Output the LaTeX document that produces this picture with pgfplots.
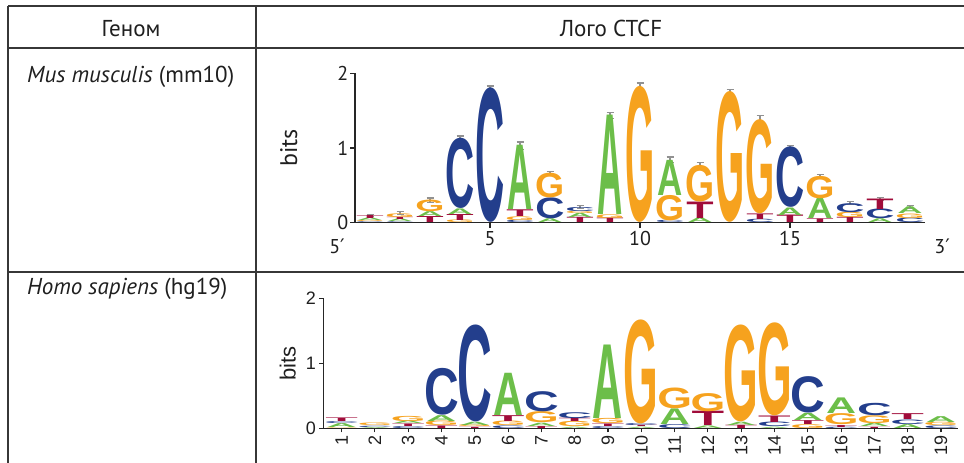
\documentclass[border=0pt]{standalone}
\usepackage{fontspec}
\usepackage{graphicx}
\usepackage{pgfplots}
\pgfplotsset{compat=1.18}
\setmainfont{PT Sans}
\newfontfamily\helv{Liberation Sans}
\newfontfamily\logofont{Liberation Sans}
\newfontfamily\dejavu{DejaVu Sans}
\definecolor{colA}{RGB}{108,190,73}
\definecolor{colC}{RGB}{35,62,140}
\definecolor{colG}{RGB}{246,162,30}
\definecolor{colT}{RGB}{160,12,58}
\definecolor{rulecol}{RGB}{55,55,55}
\definecolor{errcol}{RGB}{145,145,145}
\def\wfA{0.97}\def\wfC{1.12}\def\wfG{1.12}\def\wfT{1.05}
\newlength\logoHH
\newlength\logoWW

\pgfplotsset{
  logo/.style 2 args={
    only marks, mark=*, mark size=0pt, mark options={draw=none,fill=none},
    scatter, point meta=explicit symbolic,
    visualization depends on={\thisrow{h}\as\logoH},
    scatter/@pre marker code/.code={%
      \edef\logoL{\pgfplotspointmeta}%
      \edef\logowf{\csname wf\logoL\endcsname}%
      \logoHH=#1pt\relax
      \logoHH=\logoH\logoHH
      \logoWW=#2pt\relax
      \logoWW=\logowf\logoWW
      \edef\logocn{col\logoL}%
      \pgftext[bottom]{\color{\logocn}\resizebox*{\logoWW}{\logoHH}{\logofont\bfseries\logoL}}%
    },
    scatter/@post marker code/.code={},
  },
  errs/.style={
    only marks, mark=*, mark size=0pt, mark options={draw=none,fill=none},
    error bars/.cd, y dir=both, y explicit,
    error bar style={draw=errcol, line width=1.1pt},
    error mark options={rotate=90, mark size=3.5pt, line width=1.1pt, draw=errcol},
  },
}

\pgfplotstableread{
x y h L
1 0 0.01 C
1 0.01 0.015 G
1 0.025 0.035 A
1 0.06 0.04 T
2 0 0.01 C
2 0.01 0.035 A
2 0.045 0.03 T
2 0.075 0.05 G
3 0 0.08 T
3 0.08 0.065 A
3 0.145 0.155 G
4 0 0.035 G
4 0.035 0.08 T
4 0.115 0.075 A
4 0.19 0.94 C
5 0 1.80 C
6 0 0.03 C
6 0.03 0.05 G
6 0.08 0.09 T
6 0.17 0.86 A
7 0 0.05 A
7 0.05 0.28 C
7 0.33 0.33 G
8 0 0.07 T
8 0.07 0.055 A
8 0.125 0.03 G
8 0.155 0.055 C
9 0 0.06 T
9 0.06 0.05 G
9 0.11 1.33 A
10 0 1.82 G
11 0 0.03 C
11 0.03 0.34 G
11 0.37 0.47 A
12 0 0.06 A
12 0.06 0.22 T
12 0.28 0.49 G
13 0 1.75 G
14 0 0.045 C
14 0.045 0.075 T
14 0.12 1.26 G
15 0 0.1 T
15 0.1 0.1 A
15 0.2 0.81 C
16 0 0.05 T
16 0.05 0.27 A
16 0.32 0.30 G
17 0 0.07 T
17 0.07 0.07 G
17 0.14 0.12 C
18 0 0.05 A
18 0.05 0.13 C
18 0.18 0.14 T
19 0 0.06 C
19 0.06 0.06 G
19 0.12 0.09 A
}\mmten

\pgfplotstableread{
x t e
1 0.10 0.012
2 0.125 0.02
3 0.30 0.03
4 1.13 0.03
5 1.80 0.03
6 1.03 0.05
7 0.66 0.03
8 0.21 0.02
9 1.44 0.04
10 1.82 0.05
11 0.84 0.04
12 0.77 0.04
13 1.75 0.03
14 1.38 0.05
15 1.01 0.02
16 0.62 0.03
17 0.26 0.02
18 0.32 0.02
19 0.21 0.02
}\mmerr

\pgfplotstableread{
x y h L
1 0 0.01 G
1 0.01 0.06 A
1 0.07 0.03 C
1 0.10 0.055 T
2 0 0.015 A
2 0.015 0.02 C
2 0.035 0.04 G
3 0 0.03 C
3 0.03 0.04 T
3 0.07 0.04 A
3 0.11 0.08 G
4 0 0.04 T
4 0.04 0.07 G
4 0.11 0.09 A
4 0.20 0.72 C
5 0 0.02 T
5 0.02 0.03 G
5 0.05 0.05 A
5 0.10 1.49 C
6 0 0.04 C
6 0.04 0.07 G
6 0.11 0.09 T
6 0.20 0.65 A
7 0 0.03 T
7 0.03 0.05 A
7 0.08 0.17 G
7 0.25 0.31 C
8 0 0.02 A
8 0.02 0.08 G
8 0.10 0.05 T
8 0.15 0.09 C
9 0 0.03 C
9 0.03 0.04 T
9 0.07 0.08 G
9 0.15 1.13 A
10 0 0.02 A
10 0.02 0.02 T
10 0.04 0.03 C
10 0.07 1.60 G
11 0 0.06 C
11 0.06 0.24 A
11 0.30 0.32 G
12 0 0.04 A
12 0.04 0.22 T
12 0.26 0.28 G
13 0 0.05 T
13 0.05 0.05 A
13 0.10 1.49 G
14 0 0.02 A
14 0.02 0.07 C
14 0.09 0.10 T
14 0.19 1.43 G
15 0 0.06 G
15 0.06 0.06 T
15 0.12 0.11 A
15 0.23 0.56 C
16 0 0.02 C
16 0.02 0.03 T
16 0.05 0.17 G
16 0.22 0.24 A
17 0 0.02 T
17 0.02 0.05 A
17 0.07 0.12 G
17 0.19 0.19 C
18 0 0.06 A
18 0.06 0.07 C
18 0.13 0.09 T
19 0 0.04 C
19 0.04 0.05 G
19 0.09 0.09 A
}\hgnineteen

\begin{document}
\begin{tikzpicture}[x=1pt,y=1pt]
\path[use as bounding box] (0,0) rectangle (964,463);
% table rules
\begin{scope}[draw=rulecol, line width=1.4pt]
\draw (8,457) -- (964,457);
\draw (8,415) -- (964,415);
\draw (8,191) -- (964,191);
\draw (8,457) -- (8,0);
\draw (256,457) -- (256,0);
\end{scope}
\begin{scope}[font=\fontsize{23}{26}\selectfont, text=black!88]
\node[anchor=base, inner sep=0pt] at (131,426.5) {Геном};
\node[anchor=base, inner sep=0pt] at (611,426.5) {Лого CTCF};
\node[anchor=base west, inner sep=0pt] at (27,380) {\textit{Mus musculis} (mm10)};
\node[anchor=base west, inner sep=0pt] at (27,168) {\textit{Homo sapiens} (hg19)};
\end{scope}

% ---- mm10 logo ----
\begin{axis}[
  at={(355pt,240.3pt)}, anchor=south west,
  x=30pt, y=74.7pt, xmin=0.5, xmax=19.5, ymin=0, ymax=2,
  axis x line*=bottom, axis y line*=left,
  axis line style={line width=1.2pt, black!85},
  xtick={5,10,15}, ytick={0,1,2},
  tick align=outside, major tick length=5pt,
  tick style={line width=1.1pt, black!85},
  tick label style={font=\fontsize{20}{20}\selectfont, text=black!88},
  yticklabel style={inner xsep=1.5pt},
  /pgf/number format/assume math mode=true,
  ylabel={bits},
  every axis y label/.style={at={(axis description cs:-0.116,0.5)}, rotate=90, anchor=center, font=\fontsize{24}{24}\selectfont, text=black!88},
  clip=false,
]
\addplot[logo={74.7}{26}] table[x=x,y=y,meta=L] {\mmten};
\addplot[errs] table[x=x,y=t,y error=e] {\mmerr};
\node[font=\fontsize{20}{20}\selectfont, text=black!88] at (axis cs:-0.1,-0.31) {5\dejavu ′};
\node[font=\fontsize{20}{20}\selectfont, text=black!88] at (axis cs:20.07,-0.31) {3\dejavu ′};
\end{axis}

% ---- hg19 logo ----
\begin{axis}[
  at={(323.3pt,34.7pt)}, anchor=south west,
  x=33.3pt, y=65pt, xmin=0.45, xmax=19.5, ymin=0, ymax=2,
  axis x line*=bottom, axis y line*=left,
  axis line style={line width=1.2pt, black!85},
  xtick={1,...,19}, ytick={0,1,2},
  tick align=outside, major tick length=4pt,
  tick style={line width=1.1pt, black!85},
  tick label style={font=\helv\fontsize{18}{18}\selectfont, text=black!88},
  xticklabel style={rotate=90, anchor=east},
  /pgf/number format/assume math mode=true,
  ylabel={bits},
  every axis y label/.style={at={(axis description cs:-0.056,0.5)}, rotate=90, anchor=center, font=\helv\fontsize{22}{22}\selectfont, text=black!88},
  clip=false,
]
\addplot[logo={65}{31}] table[x=x,y=y,meta=L] {\hgnineteen};
\end{axis}
\end{tikzpicture}
\end{document}
